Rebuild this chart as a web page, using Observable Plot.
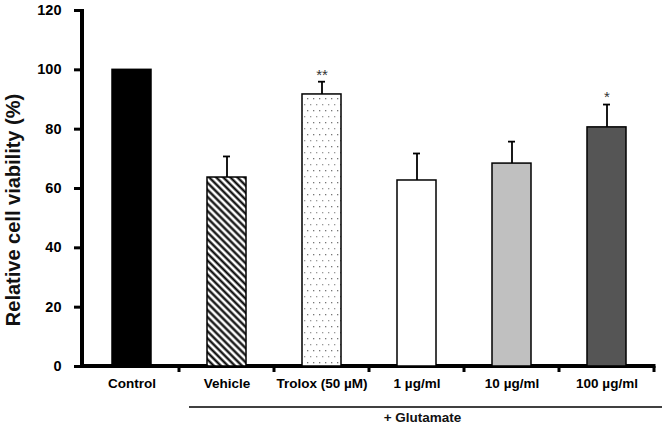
<!DOCTYPE html>
<html>
<head>
<meta charset="utf-8">
<script src="https://cdn.jsdelivr.net/npm/d3@7"></script>
<script src="https://cdn.jsdelivr.net/npm/@observablehq/plot@0.6"></script>
<style>
  html, body { margin: 0; padding: 0; background: #fff; }
  #chart svg { font-family: "Liberation Sans", Arial, sans-serif; display: block; }
</style>
</head>
<body>
<div id="chart"></div>
<script>
// ---- data ----
const categories = ["Control", "Vehicle", "Trolox (50 µM)", "1 µg/ml", "10 µg/ml", "100 µg/ml"];
const viability = [100, 63.7, 91.7, 62.7, 68.4, 80.6];
const errors = [0, 7.1, 4.3, 9.1, 7.4, 7.7];
const significance = ["", "", "**", "", "", "*"];
const yTicks = [0, 20, 40, 60, 80, 100, 120];
const yLabel = "Relative cell viability (%)";
const groupLabel = "+ Glutamate";
const groupMembers = categories.slice(1);

const data = categories.map((c, i) => ({
  category: c, value: viability[i], err: errors[i], sig: significance[i]
}));
const withErr = data.filter(d => d.err > 0);

const fills = ["#000000", "url(#hatch)", "url(#dots)", "#ffffff", "#c0c0c0", "#555555"];

function decorations(index, scales, values, dimensions) {
  const {x, y} = scales;
  const {width, height, marginLeft, marginRight, marginBottom} = dimensions;
  const g = d3.create("svg:g");
  const defs = g.append("defs");

  const hatch = defs.append("pattern")
    .attr("id", "hatch").attr("patternUnits", "userSpaceOnUse")
    .attr("width", 5).attr("height", 5)
    .attr("patternTransform", "rotate(-45)");
  hatch.append("rect").attr("width", 5).attr("height", 5).attr("fill", "#fff");
  hatch.append("line").attr("x1", 2.5).attr("x2", 2.5).attr("y1", -1).attr("y2", 6)
    .attr("stroke", "#000").attr("stroke-width", 2.2);

  const dots = defs.append("pattern")
    .attr("id", "dots").attr("patternUnits", "userSpaceOnUse")
    .attr("width", 6).attr("height", 12);
  dots.append("rect").attr("width", 6).attr("height", 12).attr("fill", "#fff");
  dots.append("rect").attr("x", 1).attr("y", 2).attr("width", 1.3).attr("height", 1.3).attr("fill", "#777");
  dots.append("rect").attr("x", 4).attr("y", 8).attr("width", 1.3).attr("height", 1.3).attr("fill", "#999");

  const bw = x.bandwidth();
  const step = x.step();
  const gap = (step - bw) / 2;
  const y0 = y(0);
  const yTop = y(yTicks[yTicks.length - 1]);
  const xEnd = x(categories[categories.length - 1]) + bw + gap;

  // x-axis boundary ticks
  categories.forEach((c) => {
    const bx = x(c) + bw + gap;
    g.append("rect").attr("x", bx - 1.5).attr("y", y0).attr("width", 3).attr("height", 6).attr("fill", "#000");
  });

  // axis lines
  g.append("line").attr("x1", marginLeft).attr("x2", marginLeft)
    .attr("y1", yTop - 1).attr("y2", y0 + 2)
    .attr("stroke", "#000").attr("stroke-width", 4);
  g.append("line").attr("x1", marginLeft - 2).attr("x2", xEnd + 1.5)
    .attr("y1", y0).attr("y2", y0)
    .attr("stroke", "#000").attr("stroke-width", 4);

  // y-axis title
  g.append("text")
    .attr("transform", `translate(${marginLeft - 69},${(yTop + y0) / 2 + 22}) rotate(-90)`)
    .attr("text-anchor", "middle").attr("dy", "0.35em")
    .attr("font-size", 20).attr("font-weight", "bold").attr("fill", "#111")
    .text(yLabel);

  // "+ Glutamate" bracket
  const gx1 = x(groupMembers[0]) - gap + 10;
  const gx2 = x(groupMembers[groupMembers.length - 1]) + bw + gap + 8;
  const gy = y0 + 41;
  g.append("line").attr("x1", gx1).attr("x2", gx2).attr("y1", gy).attr("y2", gy)
    .attr("stroke", "#000").attr("stroke-width", 1.5);
  g.append("text").attr("x", (gx1 + gx2) / 2 - 3).attr("y", gy + 15)
    .attr("text-anchor", "middle").attr("font-size", 13.5).attr("font-weight", "bold").attr("fill", "#111")
    .text(groupLabel);

  return g.node();
}

const chart = Plot.plot({
  width: 666,
  height: 425,
  marginLeft: 82,
  marginRight: 11,
  marginTop: 10,
  marginBottom: 59,
  style: {background: "#fff", fontFamily: "'Liberation Sans', Arial, sans-serif", overflow: "visible"},
  x: {domain: categories, paddingInner: 0.59, paddingOuter: 0.295, axis: null},
  y: {domain: [0, 120], axis: null},
  color: {domain: categories, range: fills},
  marks: [
    decorations,
    Plot.barY(data, {x: "category", y: "value", fill: "category", stroke: "#000", strokeWidth: 1.5}),
    Plot.ruleX(withErr, {x: "category", y1: "value", y2: d => d.value + d.err, stroke: "#000", strokeWidth: 1.8}),
    Plot.tickY(withErr, {x: "category", y: d => d.value + d.err, stroke: "#000", strokeWidth: 1.8, insetLeft: 16, insetRight: 16}),
    Plot.text(data, {x: "category", y: d => d.value + d.err, text: "sig", dy: -7, fontSize: 15, fill: "#333"}),
    Plot.axisY({ticks: yTicks, tickSize: 8, tickPadding: 13, strokeWidth: 3, fontSize: 14.5, fontWeight: "bold", label: null}),
    Plot.axisX({tickSize: 0, tickPadding: 12, fontSize: 13.5, fontWeight: "bold", label: null})
  ]
});
document.getElementById("chart").appendChild(chart);
</script>
</body>
</html>
